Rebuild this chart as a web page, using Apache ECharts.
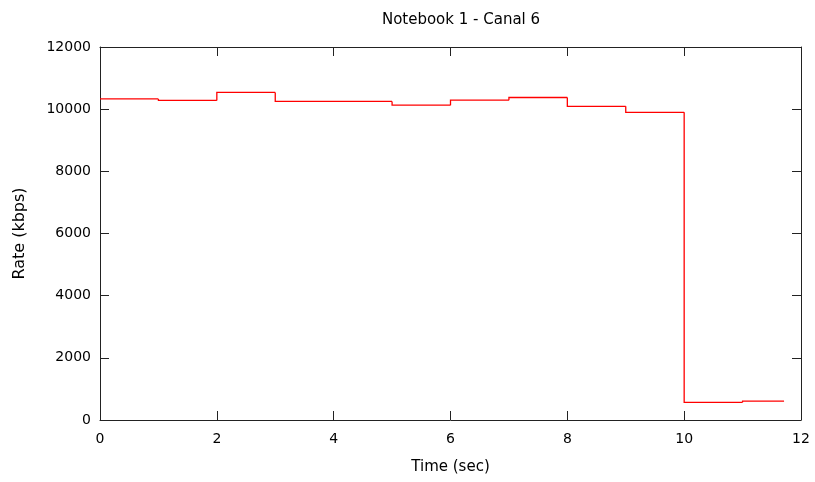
<!DOCTYPE html>
<html>
<head>
<meta charset="utf-8">
<script src="https://cdn.jsdelivr.net/npm/echarts@6/dist/echarts.min.js"></script>
<style>
  html, body { margin: 0; padding: 0; background: #fff; }
  #chart { width: 815px; height: 482px; }
</style>
</head>
<body>
<div id="chart"></div>
<script>
// interval edges (sec) and the rate held over each interval (kbps)
var edges = [0, 1, 2, 3, 5, 6, 7, 8, 9, 10, 11, 11.71];
var rates = [10330, 10280, 10540, 10250, 10130, 10290, 10375, 10090, 9900, 570, 610];

var chart = echarts.init(document.getElementById('chart'));
var font = 'DejaVu Sans';

// one item per interval: start, end, rate, rate of the interval before
var steps = rates.map(function (r, i) {
    return [edges[i], edges[i + 1], r, i > 0 ? rates[i - 1] : r];
});

function ticks() {
    return { show: true, inside: true, length: 9, lineStyle: { color: '#222', width: 1 } };
}
function line() {
    return { show: true, onZero: false, lineStyle: { color: '#222', width: 1 } };
}

var option = {
    animation: false,
    title: {
        text: 'Notebook 1 - Canal 6',
        left: 456, top: 8, textAlign: 'center',
        textStyle: { fontFamily: font, fontSize: 15, fontWeight: 'normal', color: '#000' }
    },
    grid: { left: 100, right: 14, top: 47, bottom: 62, show: false },
    xAxis: [{
        type: 'value', min: 0, max: 12, interval: 2,
        name: 'Time (sec)', nameLocation: 'middle', nameGap: 40,
        nameTextStyle: { fontFamily: font, fontSize: 15, color: '#000' },
        axisLine: line(),
        axisTick: ticks(),
        axisLabel: { fontFamily: font, fontSize: 14, color: '#000', margin: 12 },
        splitLine: { show: false }
    }, {
        type: 'value', position: 'top', min: 0, max: 12, interval: 2,
        axisLine: line(),
        axisTick: ticks(), axisLabel: { show: false }, splitLine: { show: false }
    }],
    yAxis: [{
        type: 'value', min: 0, max: 12000, interval: 2000,
        name: 'Rate (kbps)', nameLocation: 'middle', nameGap: 72, nameRotate: 90,
        nameTextStyle: { fontFamily: font, fontSize: 16, color: '#000' },
        axisLine: line(),
        axisTick: ticks(),
        axisLabel: { fontFamily: font, fontSize: 14, color: '#000', margin: 9,
            formatter: function (v) { return String(v); } },
        splitLine: { show: false }
    }, {
        type: 'value', position: 'right', min: 0, max: 12000, interval: 2000,
        axisLine: line(),
        axisTick: ticks(), axisLabel: { show: false }, splitLine: { show: false }
    }],
    series: [{
        type: 'custom',
        data: steps,
        encode: { x: [0, 1], y: [2, 3] },
        renderItem: function (params, api) {
            var x0 = api.value(0), x1 = api.value(1), r = api.value(2), prev = api.value(3);
            return {
                type: 'polyline',
                shape: { points: [api.coord([x0, prev]), api.coord([x0, r]), api.coord([x1, r])] },
                style: { fill: null, stroke: '#ff0000', lineWidth: 1.3 }
            };
        }
    }]
};

chart.setOption(option);
</script>
</body>
</html>
